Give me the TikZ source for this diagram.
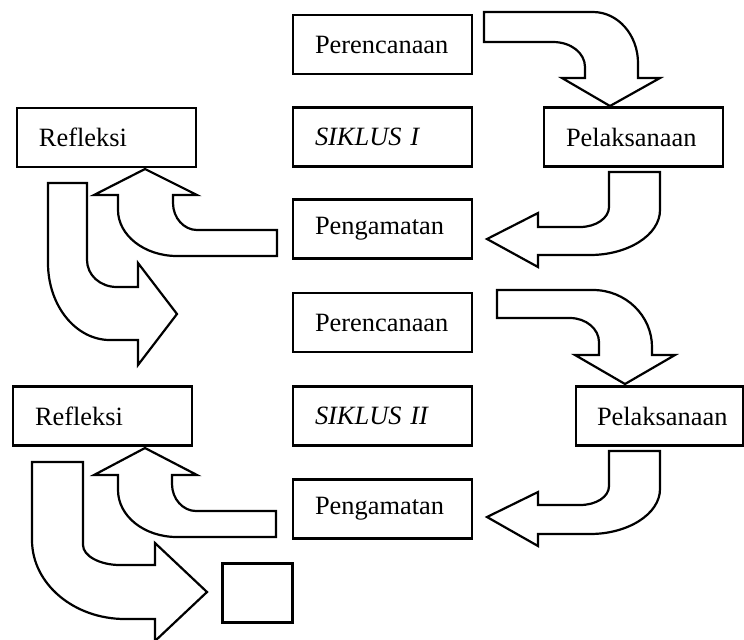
\documentclass[tikz,border=0pt]{standalone}
\usepackage{fontspec}
\setmainfont{Liberation Serif}

\tikzset{
    kotak/.style={draw, line width=1.1pt, minimum height=29.5pt, text width=67.5pt, inner xsep=11pt, align=left, font=\fontsize{13.2pt}{16pt}\selectfont},
    panah/.style={draw, fill=white, line width=1.1pt}
}

\begin{document}
\begin{tikzpicture}[x=0.5pt, y=-0.5pt]
        \useasboundingbox (0,0) rectangle (744,639);

        \node[kotak] (rencana1) at (382.5,44.5) {Perencanaan};
        \node[kotak] (siklus1) at (382.5,137) {\textit{SIKLUS I}};
        \node[kotak] (amat1) at (382.5,229) {Pengamatan};
        \node[kotak] (laksana1) at (633.5,137) {Pelaksanaan};
        \node[kotak] (refleksi1) at (106.5,137.5) {Refleksi};

        \node[kotak] (rencana2) at (382.5,322.5) {Perencanaan};
        \node[kotak] (siklus2) at (382.5,416) {\textit{SIKLUS II}};
        \node[kotak] (amat2) at (382.5,509) {Pengamatan};
        \node[kotak, text width=62.5pt, inner xsep=10.5pt] (laksana2) at (659.5,416) {Pelaksanaan};
        \node[kotak] (refleksi2) at (102.5,416) {Refleksi};
        \node[draw, line width=1.1pt, minimum width=35pt, minimum height=29.5pt] (akhir) at (257.5,593) {};

        \draw[panah] (484,12) -- (593,12) .. controls (618,12) and (638,35) .. (638,63) -- (638,78) -- (660,78) -- (610,106) -- (562,78) -- (585,78) -- (585,67) .. controls (585,53) and (571,42) .. (553,42) -- (484,42) -- cycle;
        \draw[panah] (609,172) -- (660,172) -- (660,210) .. controls (660,235) and (628,255) .. (590,255) -- (538,255) -- (538,267) -- (487,239) -- (538,213) -- (538,227) -- (580,227) .. controls (596,227) and (609,218) .. (609,207) -- cycle;
        \draw[panah] (277,230) -- (277,256) -- (177,256) .. controls (144,256) and (118,235) .. (118,210) -- (118,195) -- (94,195) -- (145,169) -- (197,195) -- (173,195) -- (173,203) .. controls (173,218) and (184,230) .. (197,230) -- cycle;
        \draw[panah] (48,183) -- (87,183) -- (87,260) .. controls (87,275) and (100,287) .. (117,287) -- (138,287) -- (138,263) -- (177,314) -- (138,365) -- (138,340) -- (110,340) .. controls (76,340) and (48,306) .. (48,263) -- cycle;

        \draw[panah] (497,290) -- (593,290) .. controls (626,290) and (652,316) .. (652,347) -- (652,355) -- (675,355) -- (625,384) -- (575,355) -- (599,355) -- (599,342) .. controls (599,329) and (586,318) .. (570,318) -- (497,318) -- cycle;
        \draw[panah] (609,451) -- (660,451) -- (660,489) .. controls (660,514) and (628,534) .. (590,534) -- (538,534) -- (538,546) -- (487,517) -- (538,492) -- (538,505) -- (580,505) .. controls (596,505) and (609,497) .. (609,486) -- cycle;
        \draw[panah] (276,511) -- (276,537) -- (177,537) .. controls (144,537) and (118,516) .. (118,490) -- (118,475) -- (94,475) -- (145,448) -- (197,475) -- (172,475) -- (172,484) .. controls (172,499) and (183,511) .. (196,511) -- cycle;
        \draw[panah] (32,462) -- (83,462) -- (83,545) .. controls (83,556) and (100,565) .. (120,565) -- (155,565) -- (155,543) -- (207,592) -- (155,641) -- (155,619) -- (125,619) .. controls (74,619) and (32,584) .. (32,540) -- cycle;
    \end{tikzpicture}
\end{document}
